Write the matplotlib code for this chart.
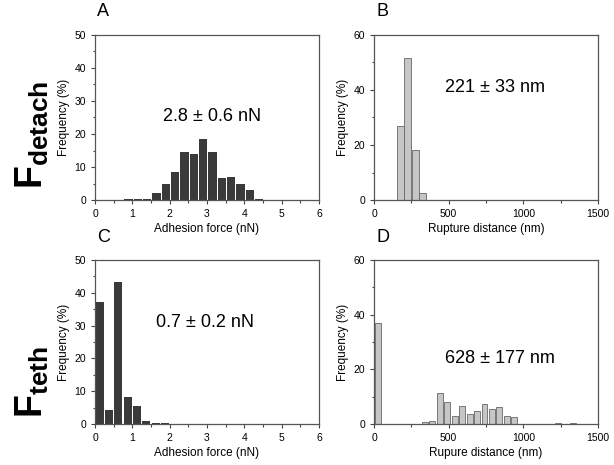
import matplotlib
matplotlib.use("Agg")
import matplotlib.pyplot as plt

plt.rcParams['font.family'] = ['Liberation Sans', 'DejaVu Sans']
plt.rcParams['mathtext.fontset'] = 'custom'
plt.rcParams['mathtext.bf'] = 'Liberation Sans:bold'
plt.rcParams['mathtext.rm'] = 'Liberation Sans'

# panel A: adhesion force, detach
force_a = [0.9, 1.15, 1.4, 1.65, 1.9, 2.15, 2.4, 2.65, 2.9, 3.15, 3.4, 3.65, 3.9, 4.15, 4.4]
freq_a = [0.3, 0.3, 0.3, 2.0, 5.0, 8.5, 14.4, 14.0, 18.4, 14.4, 6.6, 7.0, 4.7, 3.0, 0.3]

# panel B: rupture distance, detach
dist_b = [175, 225, 275, 325]
freq_b = [27.0, 51.8, 18.2, 2.4]

# panel C: adhesion force, tethers
force_c = [0.125, 0.375, 0.625, 0.875, 1.125, 1.375, 1.625, 1.875]
freq_c = [37.1, 4.3, 43.4, 8.3, 5.6, 0.9, 0.4, 0.4]

# panel D: rupture distance, tethers
dist_d = [25, 340, 390, 440, 490, 540, 590, 640, 690, 740, 790, 840, 890, 940, 1230, 1330]
freq_d = [37.0, 0.85, 1.2, 11.5, 7.9, 2.9, 6.7, 3.7, 4.8, 7.3, 5.4, 6.3, 2.8, 2.6, 0.4, 0.4]

W, H = 614, 465
fig = plt.figure(figsize=(W / 100, H / 100), dpi=100)


def make_ax(left, right, top, bottom):
    return fig.add_axes([left / W, 1 - bottom / H, (right - left) / W, (bottom - top) / H])


def ptext(x, y, s, **kw):
    fig.text(x / W, 1 - y / H, s, **kw)


def style(ax, xlim, xmaj, xmin, ylim, ymaj, ymin, xlabel):
    ax.set_xlim(*xlim)
    ax.set_ylim(*ylim)
    ax.set_xticks(xmaj)
    ax.set_xticks(xmin, minor=True)
    ax.set_yticks(ymaj)
    ax.set_yticks(ymin, minor=True)
    ax.tick_params(which='both', direction='out', top=False, right=False,
                   labelsize=7.5, color='#444444', width=0.8)
    ax.tick_params(which='major', length=3)
    ax.tick_params(which='minor', length=1.8)
    for s in ax.spines.values():
        s.set_color('#555555')
        s.set_linewidth(0.9)
    ax.set_xlabel(xlabel, fontsize=8.5, labelpad=3)
    ax.set_ylabel('Frequency (%)', fontsize=8.5, labelpad=3)


dark = '#3a3a3a'
light = '#c6c6c6'

axA = make_ax(95, 319, 35, 200)
axA.bar(force_a, freq_a, width=0.22, color=dark, edgecolor='none')
style(axA, (0, 6), range(0, 7), [0.5, 1.5, 2.5, 3.5, 4.5, 5.5], (0, 50),
      range(0, 51, 10), range(5, 50, 10), 'Adhesion force (nN)')

axB = make_ax(374, 598, 35, 200)
axB.bar(dist_b, freq_b, width=46, color=light, edgecolor='#666666', linewidth=0.6)
style(axB, (0, 1500), [0, 500, 1000, 1500], [250, 750, 1250], (0, 60),
      [0, 20, 40, 60], [10, 30, 50], 'Rupture distance (nm)')

axC = make_ax(95, 319, 260, 424)
axC.bar(force_c, freq_c, width=0.22, color=dark, edgecolor='none')
style(axC, (0, 6), range(0, 7), [0.5, 1.5, 2.5, 3.5, 4.5, 5.5], (0, 50),
      range(0, 51, 10), range(5, 50, 10), 'Adhesion force (nN)')

axD = make_ax(374, 598, 260, 424)
axD.bar(dist_d, freq_d, width=40, color=light, edgecolor='#666666', linewidth=0.6)
style(axD, (0, 1500), [0, 500, 1000, 1500], [250, 750, 1250], (0, 60),
      [0, 20, 40, 60], [10, 30, 50], 'Rupure distance (nm)')

ptext(212, 116, '2.8 \u00b1 0.6 nN', fontsize=13, ha='center', va='center')
ptext(495, 88, '221 \u00b1 33 nm', fontsize=13, ha='center', va='center')
ptext(205, 322, '0.7 \u00b1 0.2 nN', fontsize=13, ha='center', va='center')
ptext(500, 358, '628 \u00b1 177 nm', fontsize=13, ha='center', va='center')

ptext(97, 12, 'A', fontsize=13, ha='left', va='center')
ptext(376, 12, 'B', fontsize=13, ha='left', va='center')
ptext(97, 237, 'C', fontsize=13, ha='left', va='center')
ptext(376, 237, 'D', fontsize=13, ha='left', va='center')

ptext(32, 135, r'$\mathbf{F_{detach}}$', fontsize=27, rotation=90, ha='center', va='center')
ptext(32, 382, r'$\mathbf{F_{teth}}$', fontsize=27, rotation=90, ha='center', va='center')

fig.savefig('out.png', dpi=100)
